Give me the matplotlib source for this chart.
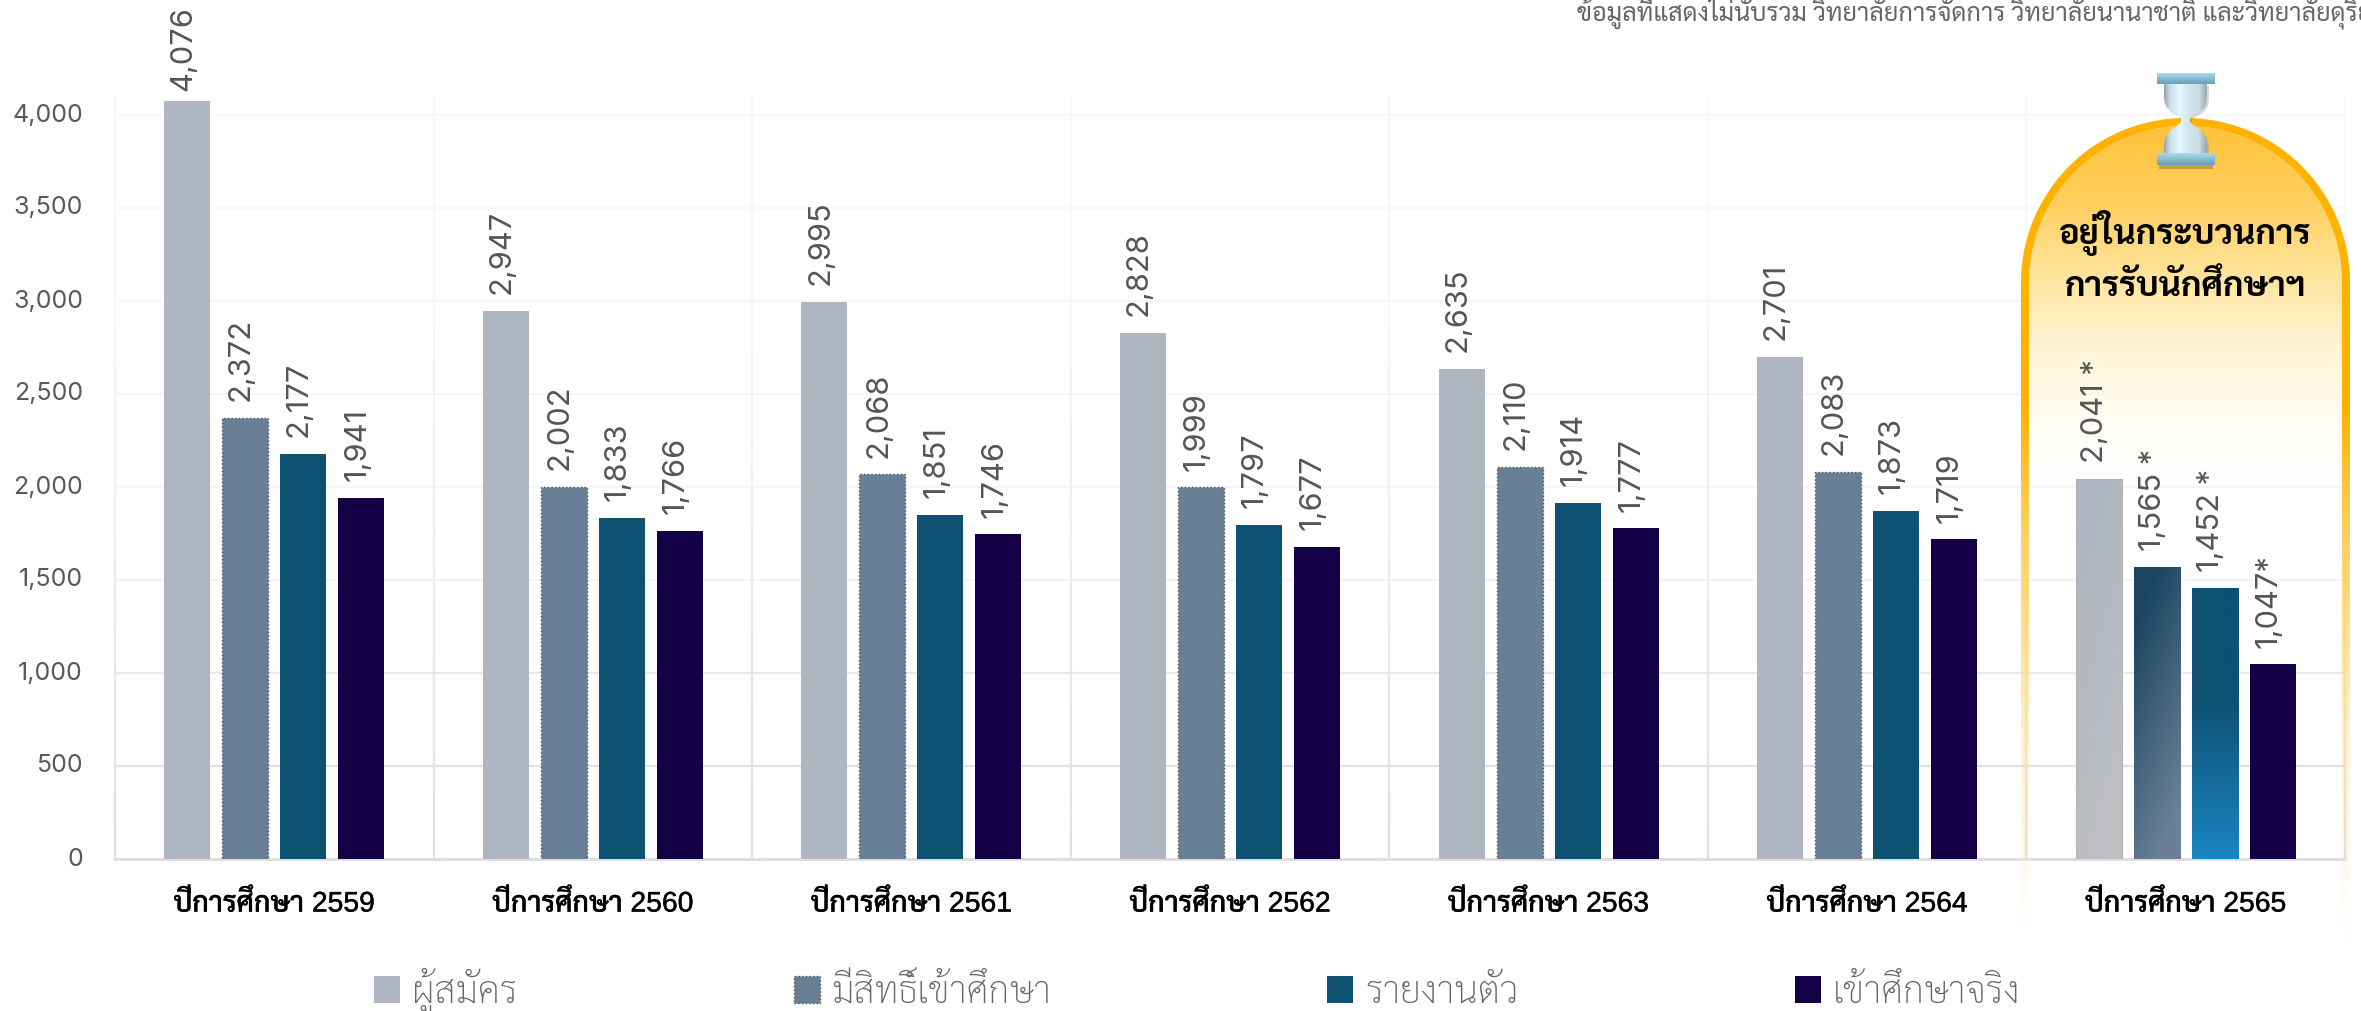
import numpy as np
import matplotlib
matplotlib.use('Agg')
import matplotlib.pyplot as plt
import matplotlib.patheffects as pe
from matplotlib.path import Path
from matplotlib.patches import PathPatch, Rectangle
from matplotlib.collections import LineCollection
from matplotlib.colors import to_rgb
from matplotlib.ticker import FuncFormatter

W, H = 2361, 1011
years = ['2559', '2560', '2561', '2562', '2563', '2564', '2565']
year_prefix = 'ปีการศึกษา'
series_names = ['ผู้สมัคร', 'มีสิทธิ์เข้าศึกษา', 'รายงานตัว', 'เข้าศึกษาจริง']
applicants = [4076, 2947, 2995, 2828, 2635, 2701, 2041]
eligible = [2372, 2002, 2068, 1999, 2110, 2083, 1565]
reported = [2177, 1833, 1851, 1797, 1914, 1873, 1452]
enrolled = [1941, 1766, 1746, 1677, 1777, 1719, 1047]
last_suffix = [' *', ' *', ' *', '*']
y_ticks = [0, 500, 1000, 1500, 2000, 2500, 3000, 3500, 4000]
note = 'ข้อมูลที่แสดงไม่นับรวม วิทยาลัยการจัดการ วิทยาลัยนานาชาติ และวิทยาลัยดุริยางคศิลป์'
panel_lines = ['อยู่ในกระบวนการ', 'การรับนักศึกษาฯ']
colors = ['#AEB6C1', '#697F95', '#0E5172', '#150047']
edges = ['none', '#4a4f56', 'none', 'none']

SANS = ['Liberation Sans', 'Sarabun']
THAI = ['Sarabun', 'Liberation Sans']
NUM = ['Inter', 'Liberation Sans']

fig = plt.figure(figsize=(W / 100, H / 100), dpi=100, facecolor='white')

# pixel-space overlay for the highlighted panel (sits over the chart, fades out below)
bg = fig.add_axes([0, 0, 1, 1], zorder=3)
bg.set_xlim(0, W)
bg.set_ylim(H, 0)
bg.axis('off')


def arch(x0, x1, ytop, ybot, n=90):
    r = (x1 - x0) / 2
    cx = (x0 + x1) / 2
    t = np.linspace(np.pi, 2 * np.pi, n)
    xs = cx + r * np.cos(t)
    ys = ytop + r + r * np.sin(t)
    vx = np.r_[x0, xs, x1, x0]
    vy = np.r_[ybot, ys, ybot, ybot]
    return np.c_[vx, vy]


def vgrad(ax, extent, stops, clip, zorder=1):
    x0, x1, ytop, ybot = extent
    ys = np.linspace(ytop, ybot, 400)
    pos = [s[0] for s in stops]
    img = np.zeros((400, 1, 4))
    for c in range(4):
        img[:, 0, c] = np.interp(ys, pos, [s[1][c] for s in stops])
    im = ax.imshow(img, extent=(x0, x1, ybot, ytop), aspect='auto', zorder=zorder,
                   interpolation='bilinear')
    im.set_clip_path(clip)
    return im


ox0, ox1, otop, obot = 2021, 2350, 118, 960
inner = arch(ox0 + 8, ox1 - 8, otop + 8, obot)
outer = arch(ox0, ox1, otop, obot)
fill_patch = PathPatch(Path(inner), fc='none', ec='none', transform=bg.transData)
bg.add_patch(fill_patch)
vgrad(bg, (ox0, ox1, otop, obot),
      [(118, (1.0, 0.76, 0.22, 1.0)), (200, (1.0, 0.81, 0.36, 1.0)), (290, (1.0, 0.90, 0.62, 0.9)),
       (350, (1.0, 0.95, 0.80, 0.8)), (420, (1.0, 0.98, 0.92, 0.6)), (480, (1, 1, 1, 0.0)),
       (960, (1, 1, 1, 0.0))], fill_patch)
ring = Path(np.r_[outer, inner[::-1]],
            np.r_[[Path.MOVETO], [Path.LINETO] * (len(outer) - 1),
                  [Path.MOVETO], [Path.LINETO] * (len(inner) - 1)])
ring_patch = PathPatch(ring, fc='none', ec='none', transform=bg.transData)
bg.add_patch(ring_patch)
b = (1.0, 0.70, 0.0)
vgrad(bg, (ox0, ox1, otop, obot),
      [(118, (*b, 1)), (410, (*b, 1)), (500, (1.0, 0.78, 0.25, 0.95)), (640, (1.0, 0.84, 0.4, 0.7)),
       (750, (1.0, 0.88, 0.55, 0.4)), (860, (1.0, 0.9, 0.65, 0.2)), (950, (1.0, 0.95, 0.8, 0.0)),
       (960, (1, 1, 1, 0))], ring_patch)
bg.set_xlim(0, W)
bg.set_ylim(H, 0)

# main chart
ax_l, ax_r, ax_top, ax_bot = 115, 2345, 96, 859
ax = fig.add_axes([ax_l / W, 1 - ax_bot / H, (ax_r - ax_l) / W, (ax_bot - ax_top) / H], zorder=2)
ax.patch.set_alpha(0)
ymax = (ax_bot - ax_top) / (744 / 4000)
ax.set_xlim(0, len(years))
ax.set_ylim(0, ymax)
for s in ['top', 'right', 'left']:
    ax.spines[s].set_visible(False)
ax.spines['bottom'].set_color('#DEDCDE')
ax.spines['bottom'].set_linewidth(2)


def mix(a, c, t):
    a, c = np.array(to_rgb(a)), np.array(to_rgb(c))
    return tuple(a + (c - a) * t)


def vgrid_col(v):
    return mix('#E4DEE1', '#F8F8F8', min(v / 3000, 1.0))


def hgrid_col(v):
    return '#E8DFE4' if v <= 500 else ('#EEE7EB' if v <= 1000 else mix('#F4F2F3', '#F9F9F9', min(v / 4000, 1)))


for v in y_ticks[1:]:
    ax.axhline(v, color=hgrid_col(v), lw=1.6, zorder=1)
vv = np.linspace(0, ymax, 60)
for i in range(len(years) + 1):
    segs = [[(i, vv[k]), (i, vv[k + 1])] for k in range(len(vv) - 1)]
    ax.add_collection(LineCollection(segs, colors=[vgrid_col(vv[k]) for k in range(len(vv) - 1)],
                                     linewidths=1.6, zorder=1, clip_on=False))

ax.set_yticks(y_ticks)
ax.yaxis.set_major_formatter(FuncFormatter(lambda v, p: f'{int(v):,}'))
ax.tick_params(axis='y', length=0, pad=23, labelcolor='#595959', labelsize=18)
for lb in ax.get_yticklabels():
    lb.set_family(NUM)
    lb.set_verticalalignment('center')
ax.set_xticks(np.arange(len(years)) + 0.5)
ax.set_xticklabels([f'{year_prefix} {y}' for y in years], family=SANS, weight='medium',
                   fontsize=20.4, color='black',
                   path_effects=[pe.withStroke(linewidth=0.3, foreground='black')])
ax.tick_params(axis='x', length=0, pad=22)

step, width = 58 / 318.57, 46 / 318.57
x = np.arange(len(years)) + 0.5
all_series = [applicants, eligible, reported, enrolled]
containers = []
for k, vals in enumerate(all_series):
    off = (k - 1.5) * step
    bars = ax.bar(x + off, vals, width, color=colors[k], zorder=3,
                  edgecolor=edges[k], linewidth=1.0 if edges[k] != 'none' else 0,
                  linestyle=':' if edges[k] != 'none' else '-', label=series_names[k])
    containers.append(bars)


def bar_grad(bar, top, bottom, diag=0.0, start=0.0, edge='none'):
    bar.set_facecolor('none')
    bar.set_edgecolor(edge)
    bar.set_linewidth(0.8 if edge != 'none' else 0)
    bar.set_linestyle('-')
    bar.set_zorder(3.5)
    xa, w, h = bar.get_x(), bar.get_width(), bar.get_height()
    t = np.linspace(0, 1, 200)[:, None]
    u = np.linspace(0, 1, 40)[None, :]
    f = np.clip((t + diag * (u - 0.5) - start) / (1 - start), 0, 1)[..., None]
    img = np.array(to_rgb(top))[None, None, :] * (1 - f) + np.array(to_rgb(bottom))[None, None, :] * f
    ax.imshow(img, extent=(xa, xa + w, 0, h), origin='upper', aspect='auto', zorder=3,
              interpolation='bilinear')


bar_grad(containers[0][-1], '#AEB6C1', '#BEBFC1', 0.4, edge='#B0B2B4')
bar_grad(containers[1][-1], '#1B4561', '#6B8096', 0.4)
bar_grad(containers[2][-1], '#0E5172', '#1A85C0', 0.0, 0.41)
ax.set_xlim(0, len(years))
ax.set_ylim(0, ymax)

# legend
leg_fs = 27.2
px = leg_fs / 0.72
leg = ax.legend(handles=containers, labels=series_names, ncols=4, loc='lower left', frameon=False,
                bbox_to_anchor=(374 / W, 1 - 1015 / H), bbox_transform=fig.transFigure,
                prop={'family': THAI, 'size': leg_fs, 'weight': 'light'},
                labelcolor='#666666', columnspacing=276 / px,
                handlelength=26 / px, handleheight=26 / px,
                handletextpad=12 / px, borderpad=0, borderaxespad=0, labelspacing=0)
leg.set_zorder(6)

# overlay text, value labels and hourglass
fg = fig.add_axes([0, 0, 1, 1], zorder=4)
fg.set_xlim(0, W)
fg.set_ylim(H, 0)
fg.axis('off')
for k, vals in enumerate(all_series):
    off = (k - 1.5) * step
    for j, (xx, v) in enumerate(zip(x + off, vals)):
        suf = last_suffix[k] if j == len(years) - 1 else ''
        lift = 7 if v > 4000 else 12
        fg.annotate(f'{v:,}{suf}', (xx, v), xycoords=ax.transData, xytext=(-3, lift),
                    textcoords='offset points', rotation=90, ha='center', va='bottom',
                    family=NUM, fontsize=22.2, color='#555555', annotation_clip=False)
fg.text(1577, 21, note, family=THAI, fontsize=18.15, color='#666666', ha='left', va='baseline')
cx = 2185.5
fg.text(cx, 233, panel_lines[0], family=THAI, weight='bold', fontsize=24.8, color='black',
        ha='center', va='center')
fg.text(cx, 287, panel_lines[1], family=THAI, weight='bold', fontsize=24.8, color='black',
        ha='center', va='center')

# hourglass
half = np.array([21.5, 21.5, 21, 19, 15, 9, 4.5, 4.5, 9, 15, 19, 21, 21.5, 21.5])
gyy = np.array([84, 95, 102, 107, 111, 114, 118, 122, 126, 130, 135, 140, 147, 154])
gx = np.r_[-half, half[::-1]] + cx
gy = np.r_[gyy, gyy[::-1]]
fg.add_patch(Rectangle((2159, 165), 54, 4, fc='#8a7040', ec='none', alpha=0.5))
fg.fill(gx + 2, gy + 2, color='#807a6a', alpha=0.3, lw=0)
gp = PathPatch(Path(np.c_[gx, gy]), fc='none', ec='none', transform=fg.transData)
fg.add_patch(gp)
prof = np.interp(np.linspace(0, 1, 60), [0, 0.12, 0.35, 0.55, 0.8, 1],
                 [0.62, 0.84, 0.95, 0.88, 0.84, 0.62])
gimg = np.clip(np.stack([prof * 0.94, prof * 1.03, prof * 1.07], axis=-1)[None, :, :], 0, 1)
im = fg.imshow(gimg, extent=(cx - 22, cx + 22, 154, 84), aspect='auto', zorder=3,
               interpolation='bilinear')
im.set_clip_path(gp)
for ytop_, ybot_ in [(73, 84), (153, 165)]:
    a_, c_ = np.array(to_rgb('#A8D8E8')), np.array(to_rgb('#66A2B8'))
    tt2 = np.linspace(0, 1, 12)[:, None, None]
    fg.imshow(a_[None, None, :] * (1 - tt2) + c_[None, None, :] * tt2,
              extent=(2157, 2214.5, ybot_, ytop_), aspect='auto', zorder=4)
fg.set_xlim(0, W)
fg.set_ylim(H, 0)

fig.savefig('out.png', dpi=100)
